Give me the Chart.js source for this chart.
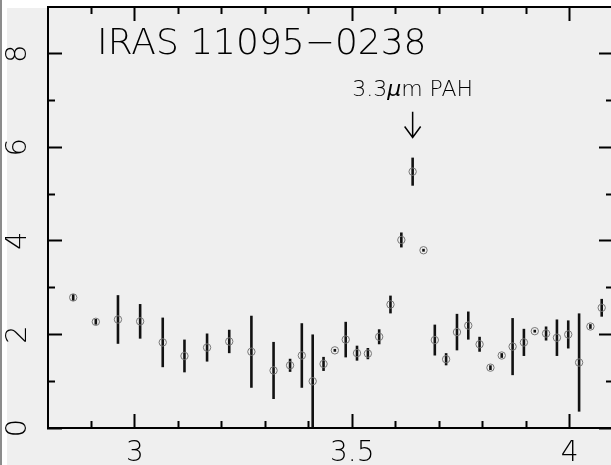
<!DOCTYPE html>
<html><head><meta charset="utf-8">
<script src="https://cdn.jsdelivr.net/npm/chart.js@4.4.1/dist/chart.umd.min.js"></script>
<style>
html,body{margin:0;padding:0;overflow:hidden;background:#fff;width:611px;height:465px;}
#bg{position:absolute;left:7px;top:8px;width:604px;height:457px;background:#efefef;}
#frame{position:absolute;left:0;top:0;width:2px;height:465px;background:#8c8c8c;}
#wrap{position:absolute;left:0;top:0;width:620px;height:465px;}
</style></head><body>
<div id="bg"></div><div id="frame"></div>
<div id="wrap"><canvas id="c" width="620" height="465"></canvas></div>
<script>
// ---- data ----
const wavelength = [2.858, 2.910, 2.961, 3.012, 3.064, 3.114, 3.166, 3.217, 3.268, 3.319, 3.357, 3.384, 3.409, 3.434, 3.460, 3.485, 3.511, 3.536, 3.562, 3.588, 3.613, 3.639, 3.664, 3.690, 3.716, 3.741, 3.767, 3.793, 3.818, 3.844, 3.869, 3.895, 3.920, 3.946, 3.971, 3.997, 4.022, 4.048, 4.074];
const flux = [2.79, 2.27, 2.32, 2.28, 1.83, 1.54, 1.72, 1.85, 1.63, 1.23, 1.34, 1.55, 1.00, 1.37, 1.66, 1.89, 1.60, 1.59, 1.95, 2.64, 4.02, 5.48, 3.80, 1.88, 1.47, 2.05, 2.19, 1.79, 1.29, 1.55, 1.74, 1.83, 2.07, 2.02, 1.93, 2.00, 1.40, 2.17, 2.57];
const fluxErr = [0.07, 0.06, 0.52, 0.37, 0.53, 0.35, 0.30, 0.25, 0.77, 0.61, 0.14, 0.69, 1.00, 0.15, 0.03, 0.38, 0.16, 0.12, 0.16, 0.19, 0.16, 0.30, 0.03, 0.33, 0.13, 0.39, 0.30, 0.16, 0.05, 0.05, 0.61, 0.29, 0.03, 0.15, 0.39, 0.30, 1.05, 0.05, 0.19];

const xMajorTicks = [3, 3.5, 4];
const xTickLabels = ['3', '3.5', '4'];
const xMinorTicks = [2.9, 3.1, 3.2, 3.3, 3.4, 3.6, 3.7, 3.8, 3.9];
const yMajorTicks = [0, 2, 4, 6, 8];
const yTickLabels = ['0', '2', '4', '6', '8'];
const yMinorTicks = [1, 3, 5, 7];

const titleText = 'IRAS 11095\u22120238';
const pahLabel = ['3.3', '\u03bc', 'm PAH'];
const pahX = 3.639;

// ---- config ----
const FONT = '"DejaVu Sans"';
const X_MIN = 2.8, X_MAX = 4.1, Y_MIN = 0, Y_MAX = 9;

function fixed(ticksArr) { return a => { a.ticks = ticksArr.map(v => ({value: v})); }; }
function size(prop, v) { return a => { a[prop] = v; a.paddingTop = 0; a.paddingBottom = 0; a.paddingLeft = 0; a.paddingRight = 0; }; }
const gridMajor = {drawOnChartArea: false, offset: false, tickLength: -14, tickWidth: 2, color: '#000'};
const gridMinor = {drawOnChartArea: false, offset: false, tickLength: -7, tickWidth: 2, color: '#000'};
const hidden = {display: false};

const points = wavelength.map((x, i) => ({x, y: flux[i]}));
const bars = wavelength.map((x, i) => ({x, y: [flux[i] - fluxErr[i], flux[i] + fluxErr[i]]}));

const annot = {
  id: 'annot',
  afterDraw(chart) {
    const {ctx, scales} = chart;
    const xs = scales.x, ys = scales.y;
    ctx.save();
    ctx.fillStyle = '#000';
    ctx.strokeStyle = '#000';
    ctx.textBaseline = 'alphabetic';
    ctx.textAlign = 'left';
    // title
    ctx.font = '200 36px ' + FONT;
    ctx.fillText(titleText, xs.getPixelForValue(2.913), ys.getPixelForValue(8.0));
    // PAH label
    const f1 = '200 22px ' + FONT, f2 = 'italic 200 22px ' + FONT;
    ctx.font = f1; const w1 = ctx.measureText(pahLabel[0]).width, w3 = ctx.measureText(pahLabel[2]).width;
    ctx.font = f2; const w2 = ctx.measureText(pahLabel[1]).width;
    const cx = xs.getPixelForValue(pahX), by = ys.getPixelForValue(7.10);
    let x0 = cx - (w1 + w2 + w3) / 2;
    ctx.font = f1; ctx.fillText(pahLabel[0], x0, by);
    ctx.font = f2; ctx.fillText(pahLabel[1], x0 + w1, by);
    ctx.font = f1; ctx.fillText(pahLabel[2], x0 + w1 + w2, by);
    // arrow
    const yTop = ys.getPixelForValue(6.76), yTip = ys.getPixelForValue(6.21);
    ctx.lineWidth = 1.5;
    ctx.beginPath();
    ctx.moveTo(cx, yTop); ctx.lineTo(cx, yTip);
    ctx.moveTo(cx - 8, yTip - 11); ctx.lineTo(cx, yTip); ctx.lineTo(cx + 8, yTip - 11);
    ctx.stroke();
    ctx.restore();
  }
};

const xCommon = {type: 'linear', min: X_MIN, max: X_MAX, offset: false, bounds: 'ticks'};
const yCommon = {type: 'linear', min: Y_MIN, max: Y_MAX, offset: false, beginAtZero: false};

new Chart(document.getElementById('c'), {
  type: 'scatter',
  data: {
    datasets: [
      {type: 'scatter', data: points, pointStyle: 'circle', pointRadius: 3.7, pointBorderWidth: 1,
       borderColor: '#777', backgroundColor: 'rgba(0,0,0,0)', order: 0},
      {type: 'bar', data: bars, backgroundColor: '#111', borderWidth: 0, inflateAmount: 0,
       barThickness: 2.6, order: 1}
    ]
  },
  options: {
    responsive: false, animation: false, events: [],
    plugins: {legend: {display: false}, tooltip: {enabled: false}},
    layout: {padding: 0},
    scales: {
      x: {...xCommon, position: 'bottom', weight: 1,
          afterBuildTicks: fixed(xMajorTicks), afterFit: size('height', 37),
          ticks: {autoSkip: false, minRotation: 0, maxRotation: 0, padding: 23, color: '#000',
                  font: {family: FONT, size: 28, weight: 200}, callback: (v, i) => xTickLabels[i]},
          grid: gridMajor, border: {display: true, width: 2, color: '#000'}},
      xMinor: {...xCommon, position: 'bottom', weight: 0,
          afterBuildTicks: fixed(xMinorTicks), afterFit: size('height', 0),
          ticks: hidden, grid: gridMinor, border: {display: false}},
      xTop: {...xCommon, position: 'top', weight: 1,
          afterBuildTicks: fixed(xMajorTicks), afterFit: size('height', 7),
          ticks: hidden, grid: gridMajor, border: {display: true, width: 2, color: '#000'}},
      xTopMinor: {...xCommon, position: 'top', weight: 0,
          afterBuildTicks: fixed(xMinorTicks), afterFit: size('height', 0),
          ticks: hidden, grid: gridMinor, border: {display: false}},
      y: {...yCommon, position: 'left', weight: 1,
          afterBuildTicks: fixed(yMajorTicks), afterFit: size('width', 48),
          ticks: {autoSkip: false, minRotation: 90, maxRotation: 90, crossAlign: 'center', padding: 34, color: '#000',
                  font: {family: FONT, size: 29, weight: 200}, callback: (v, i) => yTickLabels[i]},
          grid: gridMajor, border: {display: true, width: 2, color: '#000'}},
      yMinor: {...yCommon, position: 'left', weight: 0,
          afterBuildTicks: fixed(yMinorTicks), afterFit: size('width', 0),
          ticks: hidden, grid: gridMinor, border: {display: false}},
      yRight: {...yCommon, position: 'right', weight: 1,
          afterBuildTicks: fixed(yMajorTicks), afterFit: size('width', 7),
          ticks: hidden, grid: gridMajor, border: {display: true, width: 2, color: '#000'}},
      yRightMinor: {...yCommon, position: 'right', weight: 0,
          afterBuildTicks: fixed(yMinorTicks), afterFit: size('width', 0),
          ticks: hidden, grid: gridMinor, border: {display: false}}
    }
  },
  plugins: [annot]
});
</script></body></html>
